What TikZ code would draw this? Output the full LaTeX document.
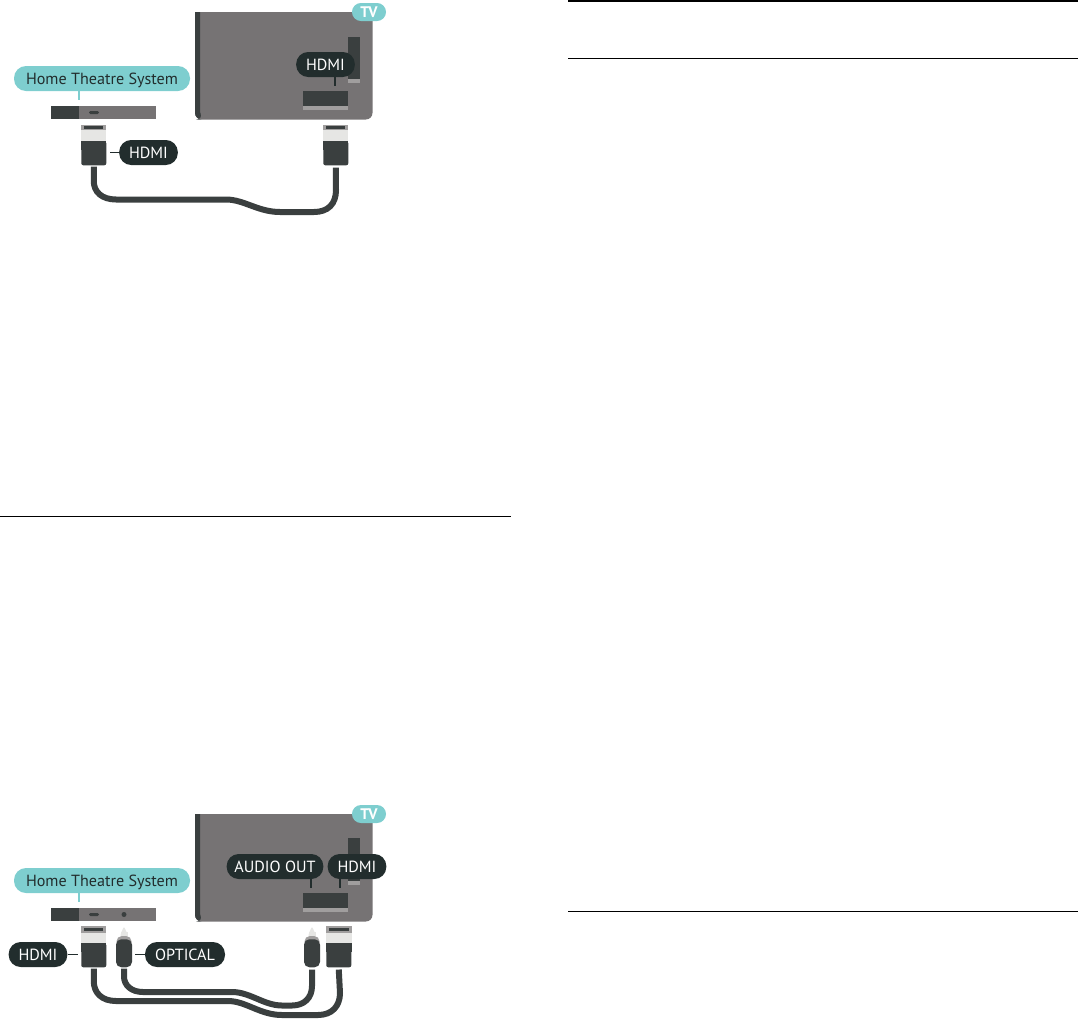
\documentclass[tikz,border=0pt]{standalone}
\usepackage{fontspec}
\setmainfont{PT Sans}
\definecolor{panel}{HTML}{767374}
\definecolor{slate}{HTML}{3A3F3F}
\definecolor{ink}{HTML}{222D2D}
\definecolor{teal}{HTML}{7ECECF}
\definecolor{pale}{HTML}{E6E6E4}
\definecolor{ash}{HTML}{A09E9E}
\usetikzlibrary{positioning, calc}

\begin{document}
\begin{tikzpicture}[
    x=0.75pt, y=-0.75pt,
    tag/.style={
        rectangle, rounded corners=9pt, fill=ink, text=white,
        minimum height=18.75pt, inner sep=0pt, text height=8.4pt, text depth=0pt,
        align=center, font=\fontsize{12.1}{12.1}\selectfont
    },
    hts/.style={tag, fill=teal, text=ink, minimum width=132pt},
    tvbadge/.style={tag, fill=teal, text=white, rounded corners=6.7pt, minimum width=25.5pt, minimum height=13.5pt, font=\fontsize{11.5}{11.5}\bfseries},
    plug/.style={rectangle, fill=slate, rounded corners=1.5pt, inner sep=0pt, minimum width=18.75pt, minimum height=18pt},
    jack/.style={rectangle, fill=slate, rounded corners=4pt, inner sep=0pt, minimum width=12pt, minimum height=21pt},
    cable/.style={draw=slate, line width=4.5pt},
    tick/.style={draw=ink, line width=0.9pt},
    rule/.style={draw=black, line width=0.75pt}
]
\useasboundingbox (0,0) rectangle (1078,1018);

% 1. Page rules
\coordinate (ruleAl) at (0,516);
\coordinate (ruleAr) at (511,516);
\coordinate (ruleBl) at (568,1);
\coordinate (ruleBr) at (1078,1);
\coordinate (ruleCl) at (568,58.5);
\coordinate (ruleCr) at (1078,58.5);
\coordinate (ruleDl) at (568,911);
\coordinate (ruleDr) at (1078,911);
\draw[rule] (ruleAl) -- (ruleAr);
\draw[rule, line width=1.5pt] (ruleBl) -- (ruleBr);
\draw[rule] (ruleCl) -- (ruleCr);
\draw[rule] (ruleDl) -- (ruleDr);

% 2. Top diagram: TV
\fill[panel] (195,12) [rounded corners=5pt] -- (195,119.5) -- (372.5,119.5) [sharp corners] -- (372.5,12) -- cycle;
\fill[slate] (195,12) [rounded corners=5pt] -- (195,119.5) -- (203,119.5) [sharp corners] -- (200,112) -- (200,12) -- cycle;
\fill[slate] (348,37) rectangle (360,79);
\fill[ash] (348,79) rectangle (360,83);
\fill[slate] (303,91) rectangle (348,106);
\fill[ash] (303,106) rectangle (348,110);
\node[tvbadge] (tvA) at (369,12) {TV};
\node[tag, minimum width=44pt] (hdmiTvA) at (325.5,64.5) {HDMI};
\coordinate (portA) at (335,86);
\draw[tick] (hdmiTvA.south -| portA) -- (portA);

% 3. Top diagram: Home Theatre System
\fill[panel] (79,106) rectangle (156,119);
\fill[slate] (51,106) rectangle (79,119);
\fill[slate, rounded corners=1pt] (89,111) rectangle (99,114);
\node[hts] (htsA) at (102,78.5) {Home Theatre System};
\coordinate (htsTickA) at (79,100);
\draw[teal, line width=0.9pt] (htsA.south -| htsTickA) -- (htsTickA);

% 4. Top diagram: plugs and cable
\fill[ash] (81,125) rectangle (106,130);
\fill[slate] (84,126) rectangle (103,129);
\fill[pale] (81,130) rectangle (106,141);
\fill[slate] (81,141) rectangle (106,150);
\node[plug, anchor=north west] (plugAl) at (81,141) {};
\fill[ash] (323,125) rectangle (348,130);
\fill[slate] (326,126) rectangle (345,129);
\fill[pale] (323,130) rectangle (348,141);
\fill[slate] (323,141) rectangle (348,150);
\node[plug, anchor=north west] (plugAr) at (323,141) {};
\node[tag, minimum width=44pt] (hdmiA) at (148.5,152.5) {HDMI};
\draw[tick] (hdmiA.west) -- ++(-9,0);
\draw[cable] (plugAl.south) ++(0,1) -- ++(0,14)
    .. controls (93.5,192) and (102,199.5) .. (116,199.5) -- (226,199.5)
    .. controls (244,199.5) and (258,212) .. (280,212) -- (314,212)
    .. controls (328,212) and (336,204) .. (336,190) -- ([yshift=-1.5pt]plugAr.south);

% 5. Bottom diagram: TV
\fill[panel] (195,814) [rounded corners=5pt] -- (195,921.5) -- (372.5,921.5) [sharp corners] -- (372.5,814) -- cycle;
\fill[slate] (195,814) [rounded corners=5pt] -- (195,921.5) -- (203,921.5) [sharp corners] -- (200,914) -- (200,814) -- cycle;
\fill[slate] (348,838) rectangle (360,881);
\fill[ash] (348,881) rectangle (360,885);
\fill[slate] (303,893) rectangle (348,908);
\fill[ash] (303,908) rectangle (348,912);
\node[tvbadge] (tvB) at (369,814) {TV};
\node[tag, minimum width=72.5pt] (audioTv) at (275,866.5) {AUDIO OUT};
\node[tag, minimum width=44pt] (hdmiTvB) at (357,866.5) {HDMI};
\coordinate (portBl) at (311,888);
\coordinate (portBr) at (340,888);
\draw[tick] (audioTv.south -| portBl) -- (portBl);
\draw[tick] (hdmiTvB.south -| portBr) -- (portBr);

% 6. Bottom diagram: Home Theatre System
\fill[panel] (79,908) rectangle (156,921);
\fill[slate] (51,908) rectangle (79,921);
\fill[slate, rounded corners=1pt] (89,913) rectangle (99,916);
\fill[slate] (124,914.5) circle (2.5);
\node[hts] (htsB) at (102,880.5) {Home Theatre System};
\coordinate (htsTickB) at (79,902);
\draw[teal, line width=0.9pt] (htsB.south -| htsTickB) -- (htsTickB);

% 7. Bottom diagram: plugs
\fill[ash] (81,926) rectangle (106,933);
\fill[slate] (84,928) rectangle (103,931);
\fill[pale] (81,933) rectangle (106,943);
\fill[slate] (81,943) rectangle (106,952);
\node[plug, anchor=north west] (plugBl) at (81,943) {};
\fill[ash] (326,926) rectangle (352,933);
\fill[slate] (329,928) rectangle (349,931);
\fill[pale] (326,933) rectangle (352,943);
\fill[slate] (326,943) rectangle (352,952);
\node[plug, anchor=north west] (plugBr) at (326,943) {};
\fill[pale, rounded corners=1pt] (124,926.5) -- (127.5,934) -- (127.5,942) -- (120.5,942) -- (120.5,934) -- cycle;
\fill[ash, rounded corners=4pt] (116.5,948) -- (116.5,936) -- (131.5,936) -- (131.5,948) -- cycle;
\fill[pale] (120.5,932) rectangle (127.5,936);
\node[jack, anchor=north] (jackBl) at (124,939) {};
\fill[pale, rounded corners=1pt] (312,926.5) -- (315.5,934) -- (315.5,942) -- (308.5,942) -- (308.5,934) -- cycle;
\fill[ash, rounded corners=4pt] (304.5,948) -- (304.5,936) -- (319.5,936) -- (319.5,948) -- cycle;
\fill[pale] (308.5,932) rectangle (315.5,936);
\node[jack, anchor=north] (jackBr) at (312,939) {};
\node[tag, minimum width=44pt] (hdmiB) at (38,954.5) {HDMI};
\node[tag, minimum width=60pt] (optical) at (185,954.5) {OPTICAL};
\draw[tick] (hdmiB.east) -- ++(10,0);
\draw[tick] (optical.west) -- ++(-10,0);

% 8. Bottom diagram: cables
\draw[cable] (plugBl.south) ++(0,1) -- ++(0,12)
    .. controls (93.5,993) and (102,1001) .. (116,1001) -- (228,1001)
    .. controls (246,1001) and (260,1015) .. (282,1015) -- (318,1015)
    .. controls (332,1015) and (340,1006) .. (340,993) -- ([yshift=-1.5pt]plugBr.south);
\draw[cable] (jackBl.south) ++(0,1) -- ++(0,8)
    .. controls (124,985) and (131,992) .. (143,992) -- (232,992)
    .. controls (250,992) and (264,1005.5) .. (282,1005.5) -- (292,1005.5)
    .. controls (304,1005.5) and (312,998) .. (312,986) -- ([yshift=-1.5pt]jackBr.south);

\end{tikzpicture}
\end{document}
